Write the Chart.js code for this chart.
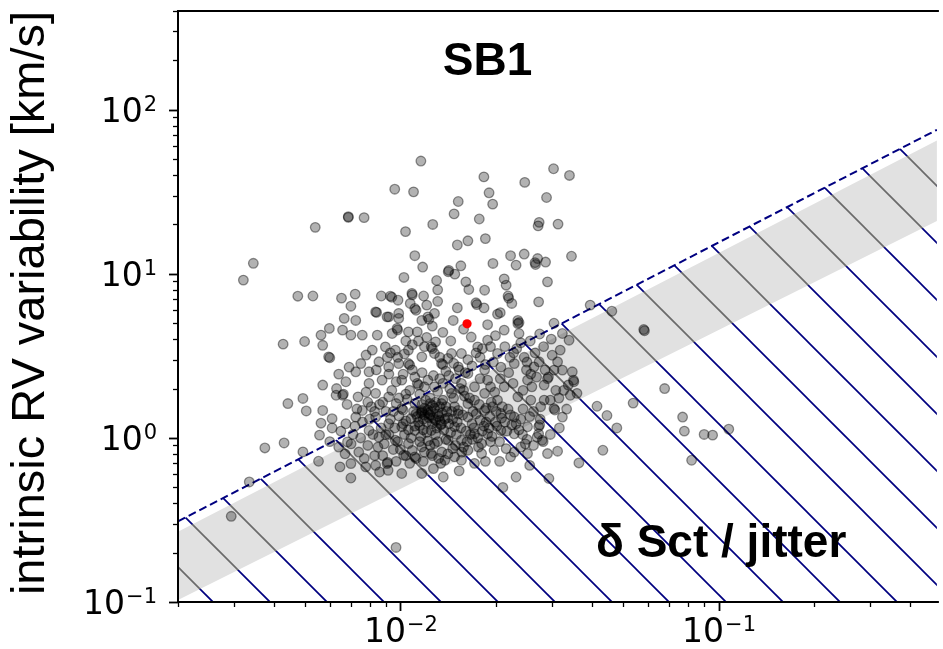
<!DOCTYPE html>
<html>
<head>
<meta charset="utf-8">
<script src="https://cdn.jsdelivr.net/npm/chart.js@4.4.0/dist/chart.umd.min.js"></script>
<style>
html,body{margin:0;padding:0;background:#fff;}
#wrap{width:943px;height:649px;position:relative;}
canvas{display:block;}
</style>
</head>
<body>
<div id="wrap"><canvas id="c" width="943" height="649"></canvas></div>
<script>
// ---------------- data ----------------
const sampleX = [
0.0116,0.0096,0.0110,0.0183,0.0246,0.0303,0.0152,0.0190,0.0195,0.0288,0.0340,0.00686,0.00686,0.00769,0.0054,0.01475,0.0177,0.0273,0.0271,0.0313,
0.01038,0.01264,0.0151,0.0163,0.0185,0.00345,0.00321,0.00476,0.00531,0.00653,0.00721,0.00699,0.00871,0.0093,0.0094,0.00983,0.0111,0.01175,0.01026,0.0130,
0.0131,0.01087,0.0109,0.01183,0.01074,0.0111,0.0112,0.0121,0.01414,0.0142,0.01483,0.01549,0.01606,0.01641,0.0184,0.01728,0.0174,0.01832,0.01954,0.0202,
0.0212,0.0215,0.0222,0.0231,0.0245,0.0218,0.0219,0.0224,0.0265,0.0266,0.0270,0.0286,0.0290,0.0272,0.0345,0.0395,0.0462,0.0582,0.0585,0.0323,
0.0339,0.0300,0.0318,0.0312,0.0273,0.0304,0.0323,0.0347,0.0351,0.0350,0.0290,0.0292,0.0283,0.0308,0.0326,0.0359,0.0342,0.0283,0.0304,0.0306,
0.0323,0.0272,0.0274,0.0272,0.0677,0.0539,0.0415,0.0446,0.0479,0.0771,0.0781,0.0901,0.0958,0.1077,0.0312,0.0433,0.0364,0.0823,0.0293,0.00428,
0.00500,0.00570,0.00595,0.00600,0.00563,0.00598,0.00658,0.00666,0.00724,0.00699,0.00759,0.00842,0.00846,0.00751,0.00856,0.00570,0.00628,0.00658,0.00662,0.00494,
0.00443,0.00506,0.00570,0.00610,0.00563,0.00674,0.00736,0.00759,0.00724,0.00674,0.00557,0.00375,0.00431,0.00494,0.00553,0.00646,0.00699,0.00699,0.00682,0.00778,
0.00836,0.00908,0.00912,0.00915,0.0101,0.01024,0.0111,0.01168,0.01364,0.0180,0.0231,0.0210,0.00335,0.00294,0.00969,0.00908,0.00988,0.00976,0.0098,0.0106,
0.00942,0.01168,0.0128,0.0113,0.0125,0.0126,0.0128,0.0106,0.0107,0.00988,0.00919,0.00876,0.0101,0.0113,0.00797,0.00836,0.00919,0.0101,0.0102,0.01168,
0.0117,0.0122,0.0124,0.0111,0.01347,0.01448,0.01556,0.0163,0.0152,0.01347,0.0136,0.01448,0.01556,0.0167,0.0175,0.0188,0.0202,0.0234,0.0236,0.0236,
0.0212,0.0228,0.0263,0.0251,0.0188,0.0212,0.0184,0.0171,0.0202,0.0234,0.0257,0.0276,0.0228,0.0207,0.0184,0.0163,0.0152,0.0148,0.01347,0.0125,
0.0111,0.0101,0.00919,0.00836,0.00797,0.00856,0.00964,0.0106,0.01168,0.0128,0.01414,0.01556,0.0171,0.0188,0.0207,0.0228,0.0251,0.0269,0.0163,0.0148,
0.0125,0.0138,0.01556,0.0180,0.0197,0.0222,0.0251,0.0279,0.0281,0.0290,0.00724,0.00797,0.00897,0.00964,0.00816,0.0106,0.01168,0.00836,0.00919,0.00988,
0.0122,0.0123,0.01466,0.0234,
0.0118,0.0121,0.0127,0.0131,0.0119,0.0126,0.0133,0.0137,0.0129,0.0115,0.0108,0.0112,0.0104,0.0099,0.0095,0.0141,0.0145,0.0139,0.0151,0.0157,
0.0161,0.0168,0.0173,0.0178,0.0183,0.0191,0.0195,0.0199,0.0205,0.0213,0.0218,0.0224,0.0239,0.0243,0.0247,0.0255,0.0262,0.0239,0.0215,0.0192,
0.0176,0.0168,0.0158,0.0146,0.0135,0.0122,0.0116,0.0109,0.0103,0.0095,0.0089,0.0087,0.0092,0.0083,0.0079,0.0076,0.0081,0.0088,0.0094,0.0097,
0.0105,0.0107,0.0115,0.0119,0.0124,0.0131,0.0136,0.0142,0.0149,0.0139,0.0127,0.0117,0.0111,0.0158,0.0165,0.0171,0.0178,0.0184,0.0192,0.0198,
0.0206,0.0219,0.0226,0.0243,0.0249,0.0259,0.0268,0.0245,0.0227,0.0213,0.0196,0.0178,0.0163,0.0144,0.0136,0.0158,0.0188,0.0206,0.0151,0.0131,
0.0126,0.0104,0.0091,0.0084,0.0078,0.0069,0.0064,0.0063,0.0068,0.0073,0.0078,0.0071,0.0065,0.0060,0.0074,0.0086,0.0097,0.0107,0.0118,0.0127,
0.0132,0.0153,0.0171,0.0185,0.0205,0.0228,0.0255,0.0262,0.0275,0.0296,0.0316,0.0333,0.0296,0.0315,0.0337,0.0285,0.0265,0.0282,0.0298,0.0274,
0.0256,0.0304,
0.0110,0.0113,0.0116,0.0119,0.0122,0.0125,0.0128,0.0123,0.0126,0.0129,0.0132,0.0135,0.0124,0.0120,0.0117,0.0114,0.0111,0.0118,0.0121,0.0130,
0.0134,0.0138,0.0142,0.0146,0.0140,0.0133,0.0129,0.0136,0.0148,0.0152,0.0155,0.0150,0.0144,0.0139,0.0131,0.0124,0.0115,0.0108,0.0106,0.0102,
0.0093,0.0096,0.0090,0.0098,0.0100,0.0104,0.0112,0.0119,0.0126,0.0134,0.0141,0.0149,0.0156,0.0162,0.0166,0.0170,0.0175,0.0181,0.0186,0.0190,
0.0194,0.0201,0.0208,0.0216,0.0222,0.0231,0.0236,0.0242,0.0250,0.0209,0.0200,0.0193,0.0186,0.0177,0.0169,0.0163,0.0159,0.0154,0.0147,0.0143,
0.0133,0.0128,0.0122,0.0114,0.0109,0.0102,0.0097,0.0092,0.0104,0.0099,
0.0093,0.0098,0.0103,0.0109,0.0114,0.0119,0.0121,0.0129,0.0133,0.0141,0.0147,0.0153,0.0160,0.0168,0.0173,0.0181,0.0185,0.0192,0.0199,0.0207,
0.0221,0.0232,0.0239,0.0250,0.0257,
0.0061,0.0064,0.0067,0.0070,0.0072,0.0075,0.0077,0.0080,0.0082,0.0085,0.0088,0.0090,0.0086,0.0083,0.0079
];
const sampleY = [
48.7,32.8,31.6,39.0,36.1,43.7,27.6,31.2,26.6,29.2,39.8,22.1,22.3,22.0,19.2,23.2,21.6,20.6,19.6,20.1,
18.1,20.0,15.0,15.9,16.4,11.6,9.16,7.31,7.33,7.11,7.52,6.35,7.33,7.31,7.2,6.91,12.9,11.0,9.51,9.11,
7.99,7.6,7.45,7.33,6.6,6.15,6.0,6.45,10.3,10.5,9.96,11.2,8.94,8.03,7.95,6.66,6.5,6.2,11.57,5.68,
9.32,8.53,12.9,11.3,13.2,7.33,7.1,6.6,11.7,11.4,12.4,11.8,8.94,6.75,12.8,6.45,5.92,4.58,4.5,4.33,
3.94,3.19,3.43,2.91,2.91,2.59,2.59,2.53,2.2,2.25,2.3,2.35,2.1,1.95,1.95,1.87,1.82,1.70,1.51,1.48,
1.34,1.17,1.2,1.06,2.0,1.63,1.56,1.37,1.15,1.34,1.10,1.05,1.04,1.13,0.830,0.841,0.704,0.731,0.566,3.73,
3.87,3.67,3.12,3.08,4.23,4.65,4.54,5.35,5.2,4.23,4.23,5.82,4.23,2.84,2.91,2.10,1.82,1.82,1.85,1.74,
1.62,1.46,1.47,1.31,1.23,2.2,1.78,1.47,1.34,1.22,1.04,0.869,0.932,0.822,0.721,0.666,0.698,0.570,0.945,0.666,
0.681,0.698,0.71,0.635,0.607,0.784,0.766,0.607,0.578,0.803,0.578,0.499,0.539,0.333,0.215,5.47,5.74,4.65,4.55,4.43,
4.33,5.2,5.74,4.43,3.59,3.5,3.27,2.84,2.78,2.84,2.71,2.25,2.25,2.15,2.15,1.87,1.78,1.51,1.48,1.47,
1.44,1.41,1.38,1.62,1.62,1.87,2.15,2.47,2.71,2.84,2.8,3.27,3.27,4.12,3.59,3.94,3.27,4.98,5.05,4.33,
4.54,2.84,2.71,2.25,2.25,2.05,1.87,1.70,1.70,1.78,1.70,1.55,1.34,1.41,1.47,1.34,1.47,1.17,1.22,1.11,
1.11,1.17,1.22,1.34,1.11,1.01,0.968,0.924,0.881,0.924,0.968,0.968,1.06,1.06,1.11,1.06,1.17,1.01,0.841,0.766,
0.803,0.731,0.731,0.924,0.841,0.766,0.803,0.968,0.95,0.803,2.53,2.53,3.59,3.43,3.43,3.43,3.12,5.86,5.47,5.35,
5.47,5.3,5.2,5.2,
1.3,1.25,1.32,1.4,1.52,1.58,1.28,1.12,1.05,1.19,1.31,1.4,1.27,1.36,1.45,1.33,1.45,1.55,1.25,1.38,
1.1,1.22,1.4,1.28,1.18,1.35,1.55,1.25,0.95,1.25,1.5,1.2,1.3,1.5,0.92,1.35,1.45,0.88,0.86,0.95,
0.88,0.98,0.88,0.86,0.82,0.96,1.02,0.84,1.05,0.85,0.92,1.15,1.05,0.78,0.9,1.25,1.55,1.65,1.95,1.62,
1.72,1.95,1.85,2.05,1.75,1.92,2.15,2.4,2.3,2.55,2.4,2.5,2.35,1.95,1.75,2.05,2.3,2.6,2.05,1.9,
2.3,2.5,2.15,1.95,2.6,2.05,2.35,3.1,3.3,3.6,2.9,3.1,3.0,3.9,4.4,4.6,4.9,5.8,6.2,6.8,
4.8,3.9,3.1,2.6,3.2,2.7,2.45,2.0,1.6,1.5,1.9,1.05,1.1,0.95,0.82,0.62,0.72,0.7,0.72,0.65,
0.75,0.63,0.7,0.72,0.72,0.82,0.68,0.9,1.3,1.05,1.15,1.5,1.7,1.75,2.1,2.6,3.3,3.6,4.0,4.3,
3.9,5.0,
1.45,1.35,1.42,1.38,1.48,1.45,1.52,1.33,1.22,1.28,1.35,1.42,1.62,1.7,1.6,1.25,1.18,1.12,1.08,1.15,
1.2,1.3,1.22,1.3,1.45,1.55,1.65,1.7,1.55,1.4,1.15,1.05,1.08,0.98,0.95,0.9,0.95,1.0,1.12,1.22,
1.3,1.15,1.05,0.95,0.85,0.78,0.75,0.82,0.78,0.7,0.8,0.9,0.82,0.95,1.05,1.15,1.0,1.1,1.25,1.15,
1.02,1.18,1.32,1.1,1.38,1.22,1.12,1.05,0.98,1.55,1.45,1.65,1.52,1.6,1.45,1.62,1.8,2.0,1.75,2.0,
2.3,2.05,2.25,2.1,2.6,2.45,2.2,2.45,1.85,1.75,
3.3,3.1,3.25,3.7,3.9,3.6,4.1,3.85,3.1,3.05,2.85,2.6,2.5,2.75,3.3,3.5,2.8,3.6,4.2,2.7,
3.1,3.5,3.8,2.9,2.45,
1.15,0.88,0.8,0.92,1.18,1.0,0.75,1.3,1.05,0.88,0.78,1.45,1.6,1.45,1.65
];
const highlightX = [0.0162];
const highlightY = [4.96];
// dashed upper boundary of the delta Sct / jitter region
const limitX = [0.002, 0.4857];
const limitY = [0.31, 75.5];
// grey band
const bandX = [0.002, 0.4857];
const bandTopY = [0.268, 65];
const bandBottomY = [0.103, 21];
// axes
const xRange = [0.002, 0.4857];
const yRange = [0.1, 400];
const xTickValues = [0.01, 0.1];
const xTickExponents = ['\u22122', '\u22121'];
const yTickValues = [0.1, 1, 10, 100];
const yTickExponents = ['\u22121', '0', '1', '2'];
const yTitle = 'intrinsic RV variability [km/s]';
const topLabel = 'SB1';
const regionLabel = '\u03b4 Sct / jitter';

// ---------------- helpers ----------------
function pts(xs, ys){ return xs.map((x,i)=>({x:x, y:ys[i]})); }
function makeHatch(bg, fg, lw){
  const s = 57;
  const c = document.createElement('canvas'); c.width = s; c.height = s;
  const g = c.getContext('2d');
  if (bg){ g.fillStyle = bg; g.fillRect(0,0,s,s); }
  g.strokeStyle = fg; g.lineWidth = lw;
  for (const k of [-1,0,1]){
    g.beginPath(); g.moveTo(k*s-3,-3); g.lineTo(k*s+s+3,s+3); g.stroke();
  }
  const p = g.createPattern(c,'repeat');
  p.setTransform(new DOMMatrix([1,0,0,1,10,0]));
  return p;
}
const ctx0 = document.getElementById('c').getContext('2d');
const hatchNavy = makeHatch(null, '#000080', 1.7);
const hatchGrey = makeHatch('#e1e1e1', '#6a6a6a', 1.7);

const decor = {
  id: 'decor',
  afterDraw(chart){
    const ctx = chart.ctx, ca = chart.chartArea;
    const xs = chart.scales.x, ys = chart.scales.y;
    ctx.save();
    // spines
    ctx.strokeStyle = '#000'; ctx.lineWidth = 2;
    ctx.beginPath();
    ctx.moveTo(ca.right+2, ca.top); ctx.lineTo(ca.left, ca.top);
    ctx.lineTo(ca.left, ca.bottom); ctx.lineTo(ca.right+2, ca.bottom);
    ctx.stroke();
    // ticks
    const mant = [1,2,3,4,5,6,7,8,9];
    for (let e=-4; e<=3; e++){
      for (const m of mant){
        const v = m*Math.pow(10,e);
        const major = (m===1);
        if (v >= xRange[0]*0.999 && v <= xRange[1]){
          const px = Math.round(xs.getPixelForValue(v))+0.5;
          ctx.lineWidth = major?1.8:1.3;
          ctx.beginPath(); ctx.moveTo(px, ca.bottom); ctx.lineTo(px, ca.bottom + (major?9:5)); ctx.stroke();
        }
        if (v >= yRange[0]*0.999 && v <= yRange[1]){
          const py = Math.round(ys.getPixelForValue(v))+0.5;
          ctx.lineWidth = major?1.8:1.3;
          ctx.beginPath(); ctx.moveTo(ca.left, py); ctx.lineTo(ca.left - (major?9:5), py); ctx.stroke();
        }
      }
    }
    // tick labels
    ctx.fillStyle = '#000';
    ctx.textBaseline = 'alphabetic';
    ctx.textAlign = 'left';
    const bigF = '33px "DejaVu Sans"', supF = '21px "DejaVu Sans"';
    for (let i=0;i<xTickValues.length;i++){
      const px = xs.getPixelForValue(xTickValues[i]);
      ctx.font = bigF; const wb = ctx.measureText('10').width;
      ctx.font = supF; const ws = ctx.measureText(xTickExponents[i]).width;
      const x0 = px - (wb+ws)/2;
      ctx.font = bigF; ctx.fillText('10', x0, 642);
      ctx.font = supF; ctx.fillText(xTickExponents[i], x0+wb+1, 631);
    }
    for (let i=0;i<yTickValues.length;i++){
      const py = ys.getPixelForValue(yTickValues[i]);
      ctx.font = bigF; const wb = ctx.measureText('10').width;
      ctx.font = supF; const ws = ctx.measureText(yTickExponents[i]).width;
      const x0 = 157 - ws - wb - 1;
      ctx.font = bigF; ctx.fillText('10', x0, py+12);
      ctx.font = supF; ctx.fillText(yTickExponents[i], x0+wb+1, py+1);
    }
    // y title
    ctx.save();
    ctx.translate(43.5, 303);
    ctx.rotate(-Math.PI/2);
    ctx.font = '47px "Liberation Sans", Arial, sans-serif';
    ctx.textAlign = 'center';
    ctx.fillText(yTitle, 0, 0);
    ctx.restore();
    // annotations
    ctx.font = 'bold 46px "Liberation Sans", Arial, sans-serif';
    ctx.textAlign = 'center';
    ctx.fillText(topLabel, 487.5, 75);
    ctx.textAlign = 'left';
    ctx.fillText(regionLabel, 596, 557);
    ctx.restore();
  }
};

new Chart(ctx0, {
  data: {
    datasets: [
      { type:'scatter', label:'highlight', data: pts(highlightX, highlightY),
        pointRadius: 4.6, pointHoverRadius: 4.6, backgroundColor:'#ff0000', borderColor:'#ff0000', borderWidth:0, order:-1 },
      { type:'scatter', label:'sample', data: pts(sampleX, sampleY),
        pointRadius: 4.8, pointHoverRadius: 4.8, backgroundColor:'rgba(0,0,0,0.3)', borderColor:'rgba(0,0,0,0.42)', borderWidth:1.3, order:0 },
      { type:'line', label:'limit', data: pts(limitX, limitY), borderColor:'#000080', borderWidth:2, borderDash:[8,4],
        pointRadius:0, fill:'start', backgroundColor: hatchNavy, tension:0, order:3 },
      { type:'line', label:'bandTop', data: pts(bandX, bandTopY), borderColor:'rgba(0,0,0,0)', borderWidth:0,
        pointRadius:0, fill:'+1', backgroundColor: hatchGrey, tension:0, order:2 },
      { type:'line', label:'bandBottom', data: pts(bandX, bandBottomY), borderColor:'rgba(0,0,0,0)', borderWidth:0,
        pointRadius:0, fill:false, tension:0, order:2 }
    ]
  },
  options: {
    responsive:false, animation:false, devicePixelRatio:1,
    layout:{ padding:{ top:11, right:0, left:0, bottom:0 } },
    plugins:{ legend:{display:false}, tooltip:{enabled:false} },
    events: [],
    scales:{
      x:{ type:'logarithmic', min:xRange[0], max:xRange[1], grid:{display:false}, border:{display:false},
          ticks:{display:false}, afterFit(s){ s.height = 47; } },
      y:{ type:'logarithmic', min:yRange[0], max:yRange[1], grid:{display:false}, border:{display:false},
          ticks:{display:false}, afterFit(s){ s.width = 178; } }
    }
  },
  plugins:[decor]
});
</script>
</body>
</html>
